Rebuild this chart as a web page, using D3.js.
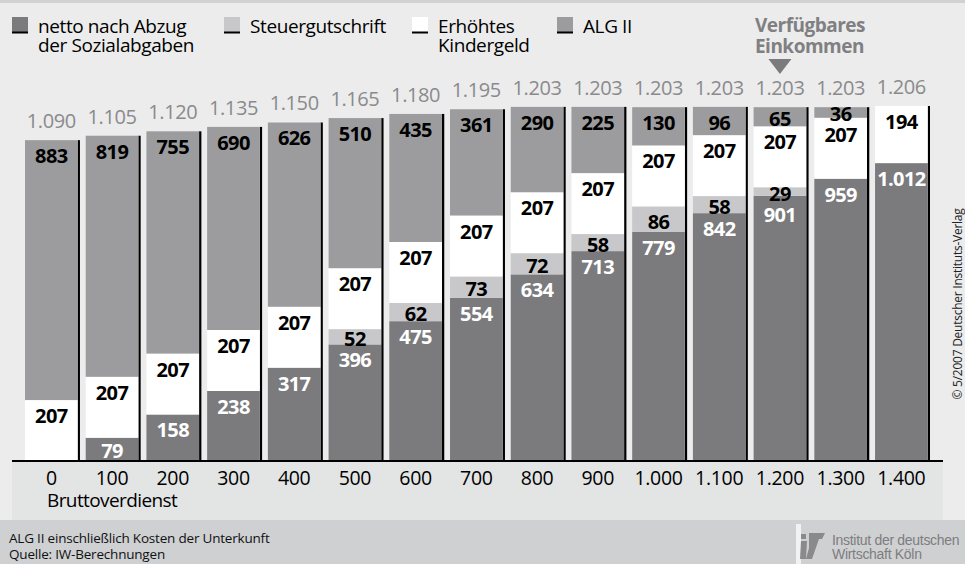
<!DOCTYPE html>
<meta charset="utf-8">
<style>
body { margin: 0; background: #ececec; }
svg { display: block; font-family: "Open Sans", sans-serif; }
</style>
<body>
<script src="https://d3js.org/d3.v7.min.js"></script>
<script>
// Bruttoverdienst in Euro
var categories = ["0", "100", "200", "300", "400", "500", "600", "700", "800", "900", "1.000", "1.100", "1.200", "1.300", "1.400"];

// segments, bottom to top
var netto   = [0, 79, 158, 238, 317, 396, 475, 554, 634, 713, 779, 842, 901, 959, 1012];
var steuer  = [0, 0, 0, 0, 0, 52, 62, 73, 72, 58, 86, 58, 29, 0, 0];
var kinder  = [207, 207, 207, 207, 207, 207, 207, 207, 207, 207, 207, 207, 207, 207, 194];
var alg     = [883, 819, 755, 690, 626, 510, 435, 361, 290, 225, 130, 96, 65, 36, 0];
var totals  = ["1.090", "1.105", "1.120", "1.135", "1.150", "1.165", "1.180", "1.195", "1.203", "1.203", "1.203", "1.203", "1.203", "1.203", "1.206"];
var totalValues = [1090, 1105, 1120, 1135, 1150, 1165, 1180, 1195, 1203, 1203, 1203, 1203, 1203, 1203, 1206];

var series = [
  {key: "netto",  name: ["netto nach Abzug", "der Sozialabgaben"], values: netto,  color: "#7b7b7d", text: "#fff"},
  {key: "steuer", name: ["Steuergutschrift"],                     values: steuer, color: "#c8c8ca", text: "#000"},
  {key: "kinder", name: ["Erhöhtes", "Kindergeld"],                values: kinder, color: "#ffffff", text: "#000"},
  {key: "alg",    name: ["ALG II"],                                values: alg,    color: "#9c9c9e", text: "#000"}
];

var W = 965, H = 564;
var svg = d3.select("body").append("svg").attr("width", W).attr("height", H);

// backgrounds
svg.append("rect").attr("width", W).attr("height", H).attr("fill", "#ececec");
svg.append("rect").attr("width", W).attr("height", 3).attr("fill", "#d2d2d3");
svg.append("rect").attr("x", 12).attr("y", 462).attr("width", 931).attr("height", 58).attr("fill", "#e3e4e4");
svg.append("rect").attr("x", 0).attr("y", 520).attr("width", W).attr("height", 44).attr("fill", "#cfd0d2");

var x = d3.scaleBand().domain(categories).range([25, 930]).paddingInner(0.095).paddingOuter(0);
var y = d3.scaleLinear().domain([0, 1206]).range([461, 106]);
var shadow = 2.3;
var bw = x.bandwidth() - shadow;

var rows = categories.map(function(c, i) {
  var y0 = 0, segs = [];
  series.forEach(function(s) {
    var v = s.values[i];
    segs.push({s: s, v: v, y0: y0, y1: y0 + v});
    y0 += v;
  });
  return {cat: c, i: i, segs: segs, top: y0};
});

var bars = svg.append("g").selectAll("g").data(rows).join("g")
    .attr("transform", function(d) { return "translate(" + x(d.cat) + ",0)"; });

bars.append("rect")
    .attr("x", bw).attr("width", shadow)
    .attr("y", function(d) { return y(d.top); })
    .attr("height", function(d) { return y(0) - y(d.top); })
    .attr("fill", "#000");

bars.selectAll("rect.seg").data(function(d) { return d.segs.filter(function(s) { return s.v > 0; }); })
  .join("rect").attr("class", "seg")
    .attr("x", 0).attr("width", bw)
    .attr("y", function(d) { return y(d.y1); })
    .attr("height", function(d) { return y(d.y0) - y(d.y1); })
    .attr("fill", function(d) { return d.s.color; });

// value labels, placed from top segment downwards
bars.each(function(d) {
  var g = d3.select(this), prev = -Infinity;
  d.segs.slice().reverse().forEach(function(s) {
    if (!s.v) return;
    var top = y(s.y1), h = y(s.y0) - y(s.y1);
    var c = h >= 24 ? top + 16 : top + h / 2 + 2;
    c = Math.max(c, prev + 21);
    prev = c;
    g.append("text")
        .attr("x", bw / 2).attr("y", c + 7)
        .attr("text-anchor", "middle")
        .attr("font-size", 20).attr("font-weight", 700)
        .attr("letter-spacing", -0.6)
        .attr("fill", s.s.text)
        .text(d3.format(",")(s.v).replace(",", "."));
  });
  g.append("text")
      .attr("x", bw / 2).attr("y", y(totalValues[d.i]) - 12)
      .attr("text-anchor", "middle")
      .attr("font-size", 20).attr("fill", "#8a8a8c")
      .attr("letter-spacing", -0.4)
      .text(totals[d.i]);
});

// axis
svg.append("line").attr("x1", 12).attr("x2", 943).attr("y1", 461).attr("y2", 461)
    .attr("stroke", "#000").attr("stroke-width", 2);
svg.append("g").selectAll("text").data(categories).join("text")
    .attr("x", function(d) { return x(d) + bw / 2; })
    .attr("y", 485)
    .attr("text-anchor", "middle")
    .attr("font-size", 19.5)
    .attr("letter-spacing", -0.3)
    .text(function(d) { return d; });
svg.append("text").attr("x", 47).attr("y", 507).attr("font-size", 19)
    .attr("letter-spacing", -0.6).text("Bruttoverdienst");

// legend
var legendX = [12, 224, 412, 557];
var legend = svg.append("g").selectAll("g").data(series).join("g")
    .attr("transform", function(d, i) { return "translate(" + legendX[i] + ",17)"; });
legend.append("rect").attr("width", 16).attr("height", 16)
    .attr("fill", function(d) { return d.color; });
legend.append("rect").attr("y", 14.5).attr("width", 16).attr("height", 2).attr("fill", "#000");
legend.each(function(d) {
  var t = d3.select(this).append("text").attr("x", 26).attr("y", 16)
      .attr("font-size", 19).attr("letter-spacing", -0.4);
  d.name.forEach(function(line, k) {
    t.append("tspan").attr("x", 26).attr("dy", k ? 18.5 : 0).text(line);
  });
});

// Verfügbares Einkommen marker over 1.200
var cx = x("1.200") + bw / 2;
var vt = svg.append("text").attr("x", cx - 25).attr("y", 32)
    .attr("font-size", 19).attr("font-weight", 700).attr("fill", "#808082")
    .attr("letter-spacing", -0.5);
vt.append("tspan").attr("x", cx - 25).text("Verfügbares");
vt.append("tspan").attr("x", cx - 25).attr("dy", 21).text("Einkommen");
svg.append("path")
    .attr("d", "M" + (cx - 11.5) + ",59L" + (cx + 11.5) + ",59L" + cx + ",74Z")
    .attr("fill", "#7b7b7d");

// copyright
svg.append("text")
    .attr("transform", "translate(962,304) rotate(-90)")
    .attr("text-anchor", "middle")
    .attr("font-size", 12).attr("fill", "#222")
    .attr("letter-spacing", -0.25)
    .text("© 5/2007 Deutscher Instituts-Verlag");

// footer
var foot = svg.append("text").attr("font-size", 13.5).attr("fill", "#111").attr("letter-spacing", -0.2);
foot.append("tspan").attr("x", 9).attr("y", 543).text("ALG II einschließlich Kosten der Unterkunft");
foot.append("tspan").attr("x", 9).attr("y", 559).text("Quelle: IW-Berechnungen");

// IW logo
svg.append("rect").attr("x", 796).attr("y", 524).attr("width", 5).attr("height", 40).attr("fill", "#f2f2f2");
var logo = svg.append("g").attr("fill", "#8a8a8c");
logo.append("rect").attr("x", 801).attr("y", 534).attr("width", 5).attr("height", 5);
logo.append("path").attr("d", "M801,541L807,541L806,559L800,559Z");
logo.append("path").attr("d", "M809,533L825,533L822,539L819,539L812,559L806,559L809,548Z");
logo.append("path").attr("d", "M812,533L818,533L815,542Z");
var lt = svg.append("text").attr("font-family", "'Liberation Sans', Arial, sans-serif")
    .attr("font-size", 14).attr("fill", "#7d7d7f").attr("letter-spacing", -0.3);
lt.append("tspan").attr("x", 832).attr("y", 545).text("Institut der deutschen");
lt.append("tspan").attr("x", 832).attr("y", 559).text("Wirtschaft Köln");
</script>
</body>
